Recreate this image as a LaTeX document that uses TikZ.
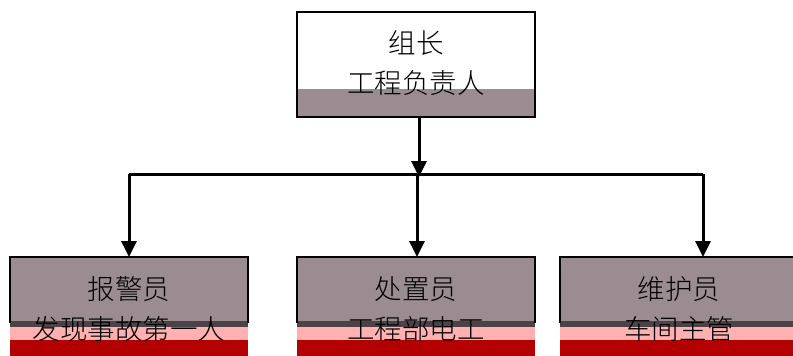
\documentclass[tikz,border=0pt]{standalone}
\usepackage{fontspec}
\newfontfamily\cjk{Noto Sans CJK SC Light}
\usetikzlibrary{arrows.meta}
\definecolor{boxgray}{HTML}{9A8C91}
\definecolor{darkband}{HTML}{4D4247}
\definecolor{pinkband}{HTML}{FFB0B0}
\definecolor{redband}{HTML}{B30000}
\begin{document}
\begin{tikzpicture}[x=1pt,y=-1pt,
  box/.style={draw=black,line width=2.5pt,minimum width=238pt,inner sep=0pt},
  txt/.style={font=\cjk\fontsize{27.5}{30}\selectfont,inner sep=0pt,text=black},
  conn/.style={line width=3pt,draw=black},
  arr/.style={conn,-{Triangle[width=15pt,length=16pt]}}]
\useasboundingbox (0,0) rectangle (793,356);
\clip (0,0) rectangle (793,356);
% fills
\fill[white] (297,12) rectangle (535,117);
\fill[boxgray] (297,89) rectangle (535,117);
\foreach \xa/\xb in {10/248,297/535,560/798}{
  \fill[boxgray] (\xa,257) rectangle (\xb,321);
  \fill[darkband] (\xa,321) rectangle (\xb,327);
  \fill[pinkband] (\xa,327) rectangle (\xb,340);
  \fill[redband] (\xa,340) rectangle (\xb,360);
}
% boxes
\node[box,minimum height=105pt] (top) at (416,64.5) {};
\draw[line width=2.5pt] (10,323) |- (248,257) -- (248,323);
\node[inner sep=0pt,minimum width=238pt,minimum height=1pt] (b1) at (129,257) {};
\draw[line width=2.5pt] (297,323) |- (535,257) -- (535,323);
\node[inner sep=0pt,minimum width=238pt,minimum height=1pt] (b2) at (416,257) {};
\draw[line width=2.5pt] (560,323) |- (800,257);
\node[inner sep=0pt,minimum width=238pt,minimum height=1pt] (b3) at (679,257) {};
% texts
\node[txt] (t0a) at (416,43) {组长};
\node[txt] (t0b) at (416,83) {工程负责人};
\node[txt] (t1a) at (129,289) {报警员};
\node[txt] (t1b) at (129,329) {发现事故第一人};
\node[txt] (t2a) at (416,289) {处置员};
\node[txt] (t2b) at (416,329) {工程部电工};
\node[txt] (t3a) at (679,289) {维护员};
\node[txt] (t3b) at (679,329) {车间主管};
% connectors
\coordinate (j0) at (419,177);
\coordinate (j1) at (129,174);
\coordinate (j2) at (417,174);
\coordinate (j3) at (703,174);
\draw[arr] (top.south -| j0) -- (j0);
\draw[conn] (j1) -- (j3);
\draw[arr] (j1) -- (b1.center);
\draw[arr] (j2) -- (j2 |- b2.center);
\draw[arr] (j3) -- (j3 |- b3.center);
\end{tikzpicture}
\end{document}
